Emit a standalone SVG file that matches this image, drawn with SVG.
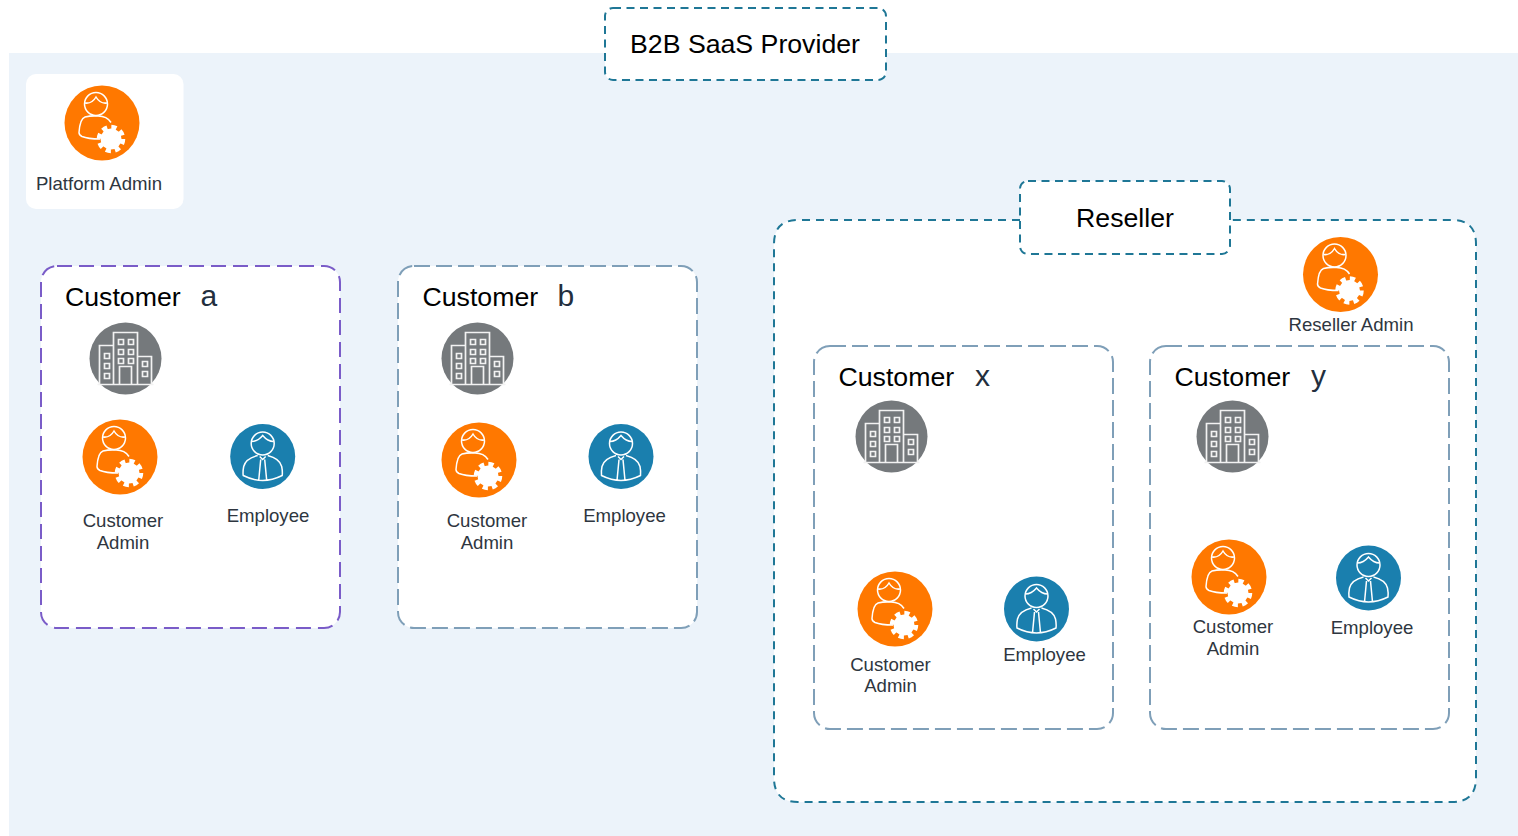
<svg xmlns="http://www.w3.org/2000/svg" width="1518" height="836" viewBox="0 0 1518 836">
<style>
text{font-family:"Liberation Sans",Arial,sans-serif}
.t{font-size:26.700px;fill:#000}
.s{font-size:18.600px;fill:#2e3640;text-anchor:middle}
.v{font-size:30px;fill:#232f3e}
.box{fill:#fff;stroke-width:2}
.teal{stroke:#1f7796;stroke-dasharray:8 5.500}
.big{stroke:#1f7796;stroke-dasharray:8 6;fill:#fff;stroke-width:2}
.gb{stroke:#7f9fb8;stroke-dasharray:16 6}
.pur{stroke:#7a5cc8;stroke-dasharray:15 7}
.ln{fill:none;stroke:#fff;stroke-width:1.500}
.lb{fill:none;stroke:#f2f2f2;stroke-width:1.700}
</style>
<defs>
<g id="gear"><circle r="10.500" fill="#fff"/><circle r="11.500" fill="none" stroke="#fff" stroke-width="5.500" stroke-dasharray="5 4.030"/></g>
<g id="admin"><circle r="37.500" fill="#ff7800"/><circle class="ln" cx="-6" cy="-19" r="11.500"/><path class="ln" d="M-17-20q7 1 11-6q4 7 11 6"/><path class="ln" d="M-2 16q-12 0-18-2.500q-3-1.500-3-4q1-14 6-15.500q6-1.500 13-1q9 0 13 6.500"/><use href="#gear" x="9" y="16"/></g>
<g id="emp"><circle r="32.500" fill="#1a7fae"/><circle class="ln" cy="-13" r="11.500"/><path class="ln" d="M-11-15q6 0 11-6q5 6 11 6M-5-1q-12 3-14 11q-1 5-0.500 9q10 5 19.500 5t19.500-5q0.500-4-0.500-9q-2-8-14-11M-3 0l3 3l3-3M-2 3l-2 21M2 3l2 21"/></g>
<g id="bld"><circle r="36" fill="#75797c"/><g class="lb"><path d="M-26 26V-13h14V26M-12 26V-26h24V26M12 26V-2h14V26M-28 26H28M-6 26V8H6V26"/><path d="M-21-5h5v5h-5zM-21 5h5v5h-5zM-21 15h5v5h-5zM-7-19h5v5h-5zM3-19h5v5h-5zM-7-9h5v5h-5zM3-9h5v5h-5zM-7 0h5v5h-5zM3 0h5v5h-5zM17 3h5v5h-5zM17 13h5v5h-5z"/></g></g>
</defs>
<rect x="9" y="53" width="1509" height="783" fill="#ecf3fa"/>
<g id="platform-admin"><rect x="26" y="74" width="157.500" height="135" rx="10" fill="#fff"/><use href="#admin" x="102" y="123"/><text class="s" x="99" y="190">Platform Admin</text></g>
<g id="provider"><rect class="box teal" x="605" y="8" width="281" height="72" rx="8"/><text class="t" x="745" y="53" text-anchor="middle">B2B SaaS Provider</text></g>
<g id="customer-a"><rect class="box pur" x="41" y="266" width="299" height="362" rx="16"/><text class="t" x="65" y="306">Customer</text><text class="v" x="200.500" y="306">a</text><use href="#bld" x="125.500" y="358.500"/><use href="#admin" x="120" y="457"/><use href="#emp" x="262.700" y="456.500"/><text class="s" x="123" y="527">Customer</text><text class="s" x="123" y="549">Admin</text><text class="s" x="268" y="522">Employee</text></g>
<g id="customer-b"><rect class="box gb" x="398" y="266" width="299" height="362" rx="16"/><text class="t" x="422.500" y="306">Customer</text><text class="v" x="557.500" y="306">b</text><use href="#bld" x="477.500" y="358.500"/><use href="#admin" x="479" y="460"/><use href="#emp" x="621" y="456.500"/><text class="s" x="487" y="527">Customer</text><text class="s" x="487" y="549">Admin</text><text class="s" x="624.500" y="522">Employee</text></g>
<g id="reseller"><path class="big" d="M1020 220H798q-24 0-24 24V778q0 24 24 24H1452q24 0 24-24V244q0-24-24-24H1230"/><rect class="box teal" x="1020" y="181" width="210" height="73" rx="8"/><text class="t" x="1125" y="227" text-anchor="middle">Reseller</text><use href="#admin" x="1340.500" y="274.500"/><text class="s" x="1351" y="331">Reseller Admin</text></g>
<g id="customer-x"><rect class="box gb" x="814" y="346" width="299" height="383" rx="16"/><text class="t" x="838.500" y="386">Customer</text><text class="v" x="975" y="386">x</text><use href="#bld" x="891.500" y="436.500"/><use href="#admin" x="895" y="609"/><use href="#emp" x="1036.500" y="609"/><text class="s" x="890.500" y="671">Customer</text><text class="s" x="890.500" y="692">Admin</text><text class="s" x="1044.500" y="661">Employee</text></g>
<g id="customer-y"><rect class="box gb" x="1150" y="346" width="299" height="383" rx="16"/><text class="t" x="1174.500" y="386">Customer</text><text class="v" x="1311" y="386">y</text><use href="#bld" x="1232.500" y="436.500"/><use href="#admin" x="1229" y="577"/><use href="#emp" x="1368.500" y="578"/><text class="s" x="1233" y="633">Customer</text><text class="s" x="1233" y="655">Admin</text><text class="s" x="1372" y="634">Employee</text></g>
<g id="connectors"/>
</svg>
